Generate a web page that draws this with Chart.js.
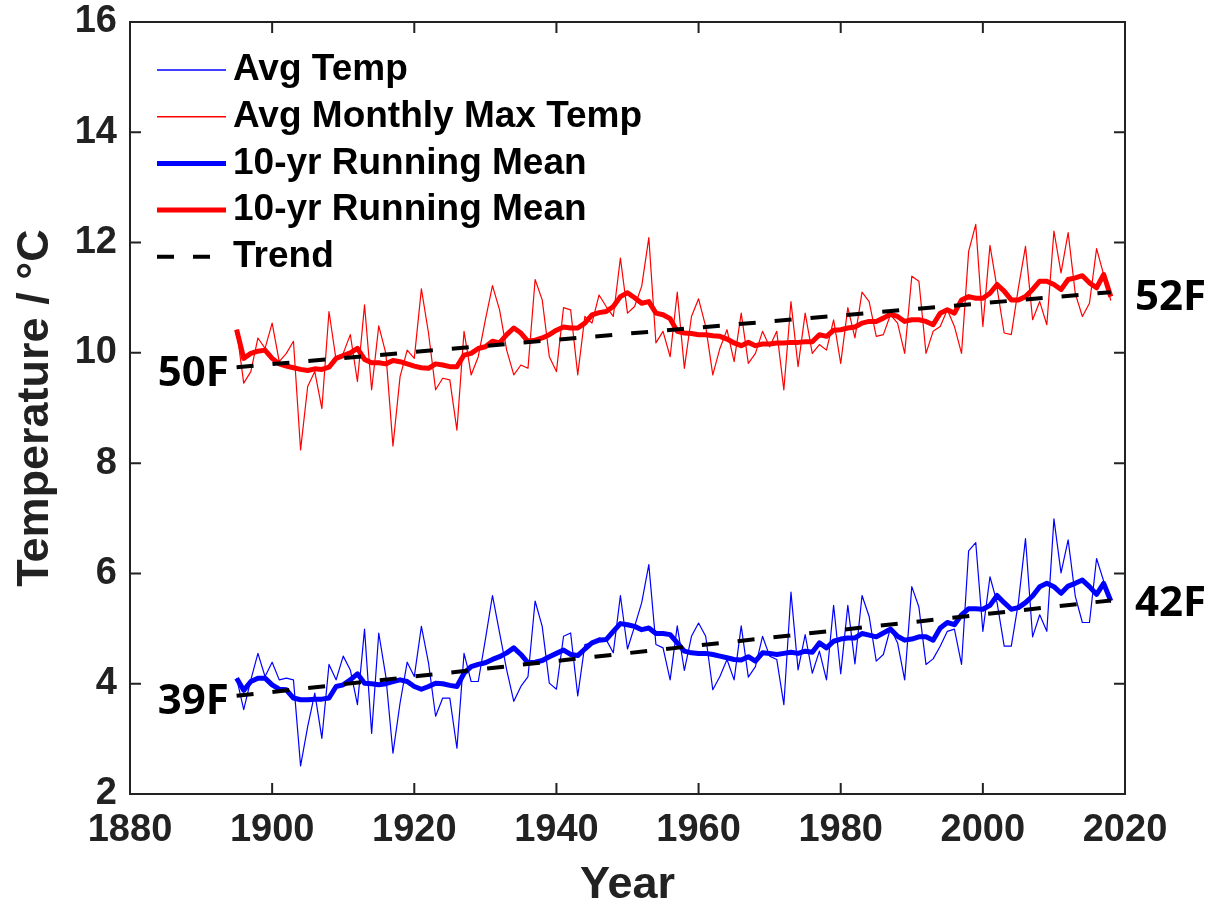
<!DOCTYPE html>
<html>
<head>
<meta charset="utf-8">
<script src="https://cdn.jsdelivr.net/npm/chart.js@4.4.0/dist/chart.umd.min.js"></script>
<style>
  html, body { margin: 0; padding: 0; background: #fff; }
  #wrap { width: 1221px; height: 910px; }
</style>
</head>
<body>
<div id="wrap"><canvas id="chart" width="1221" height="910"></canvas></div>
<script>
// yearly values, 1895 - 2018
const firstYear = 1895;

const avgTemp = [
  4.10, 3.53, 4.07, 4.55, 4.13, 4.39, 4.07, 4.10, 4.07, 2.51,
  3.22, 3.83, 3.01, 4.35, 4.07, 4.50, 4.25, 3.62, 4.99, 3.10,
  4.92, 4.13, 2.74, 3.65, 4.39, 4.13, 5.04, 4.38, 3.41, 3.74,
  3.74, 2.83, 4.55, 4.04, 4.04, 4.80, 5.60, 4.92, 4.25, 3.68,
  3.95, 4.13, 5.50, 5.04, 4.01, 3.90, 4.86, 4.92, 3.78, 4.71,
  4.74, 4.83, 4.80, 4.56, 5.60, 4.63, 5.04, 5.47, 6.16, 4.71,
  4.65, 4.07, 5.05, 4.24, 4.86, 5.10, 4.86, 3.89, 4.13, 4.44,
  4.07, 5.05, 4.12, 4.31, 4.86, 4.50, 4.44, 3.62, 5.66, 4.25,
  4.89, 4.19, 4.59, 4.07, 5.42, 4.18, 5.42, 4.36, 5.60, 5.22,
  4.41, 4.53, 5.01, 4.74, 4.07, 5.76, 5.39, 4.35, 4.45, 4.68,
  4.95, 4.99, 4.35, 6.41, 6.56, 4.95, 5.94, 5.47, 4.68, 4.68,
  5.47, 6.63, 4.85, 5.25, 4.95, 6.99, 6.01, 6.61, 5.59, 5.11,
  5.11, 6.27, 5.86, 5.47
];

const maxTemp = [
  10.42, 9.45, 9.66, 10.27, 10.08, 10.54, 9.84, 9.99, 10.21, 8.24,
  9.39, 9.66, 8.99, 10.75, 9.87, 9.99, 10.33, 9.48, 10.87, 9.33,
  10.49, 9.99, 8.31, 9.57, 10.05, 9.90, 11.16, 10.36, 9.33, 9.54,
  9.51, 8.60, 10.39, 9.60, 9.93, 10.60, 11.22, 10.78, 10.05, 9.60,
  9.78, 9.72, 11.33, 10.96, 9.93, 9.66, 10.82, 10.78, 9.60, 10.66,
  10.54, 11.05, 10.84, 10.66, 11.72, 10.72, 10.84, 11.21, 12.09, 10.18,
  10.39, 9.93, 11.10, 9.72, 10.66, 10.98, 10.48, 9.60, 10.08, 10.42,
  9.84, 10.72, 9.81, 9.99, 10.39, 10.11, 10.39, 9.33, 10.93, 9.75,
  10.72, 9.99, 10.15, 10.05, 10.60, 9.81, 10.82, 10.27, 11.10, 10.93,
  10.30, 10.33, 10.69, 10.54, 9.99, 11.39, 11.30, 9.99, 10.39, 10.48,
  10.78, 10.48, 9.99, 11.84, 12.33, 10.48, 11.95, 11.18, 10.36, 10.33,
  11.18, 11.93, 10.60, 10.93, 10.51, 12.21, 11.45, 12.18, 11.08, 10.66,
  10.90, 11.89, 11.42, 10.95
];

const avgMean = [
  4.10, 3.88, 4.04, 4.10, 4.10, 3.98, 3.90, 3.89, 3.74, 3.71,
  3.71, 3.72, 3.72, 3.74, 3.95, 3.98, 4.07, 4.18, 4.01, 4.00,
  3.98, 4.00, 4.04, 4.07, 4.04, 3.95, 3.90, 3.95, 4.01, 4.00,
  3.97, 3.95, 4.19, 4.31, 4.35, 4.38, 4.44, 4.49, 4.56, 4.65,
  4.53, 4.38, 4.39, 4.42, 4.49, 4.55, 4.61, 4.53, 4.51, 4.63,
  4.74, 4.79, 4.80, 4.95, 5.09, 5.07, 5.04, 4.98, 5.01, 4.91,
  4.91, 4.89, 4.74, 4.59, 4.56, 4.55, 4.55, 4.53, 4.50, 4.47,
  4.44, 4.43, 4.49, 4.41, 4.56, 4.55, 4.53, 4.55, 4.57, 4.55,
  4.59, 4.57, 4.74, 4.65, 4.77, 4.81, 4.83, 4.83, 4.91, 4.88,
  4.85, 4.92, 4.99, 4.86, 4.79, 4.81, 4.85, 4.85, 4.79, 5.01,
  5.11, 5.07, 5.25, 5.36, 5.36, 5.35, 5.42, 5.60, 5.47, 5.35,
  5.38, 5.47, 5.59, 5.76, 5.82, 5.76, 5.64, 5.77, 5.82, 5.88,
  5.76, 5.62, 5.82, 5.50
];

const maxMean = [
  10.42, 9.90, 9.99, 10.03, 10.05, 9.90, 9.80, 9.76, 9.73, 9.70,
  9.68, 9.71, 9.70, 9.74, 9.90, 9.95, 10.00, 10.08, 9.88, 9.82,
  9.82, 9.80, 9.86, 9.84, 9.80, 9.76, 9.73, 9.72, 9.80, 9.78,
  9.75, 9.75, 9.96, 9.99, 10.08, 10.11, 10.21, 10.18, 10.33, 10.45,
  10.36, 10.21, 10.23, 10.27, 10.33, 10.41, 10.47, 10.45, 10.45, 10.54,
  10.69, 10.73, 10.75, 10.84, 11.02, 11.09, 11.00, 10.90, 10.93, 10.72,
  10.69, 10.62, 10.39, 10.36, 10.35, 10.33, 10.33, 10.31, 10.30, 10.25,
  10.18, 10.13, 10.19, 10.13, 10.16, 10.16, 10.18, 10.18, 10.19, 10.19,
  10.20, 10.20, 10.33, 10.30, 10.41, 10.42, 10.45, 10.47, 10.54, 10.57,
  10.57, 10.63, 10.70, 10.66, 10.57, 10.60, 10.60, 10.57, 10.51, 10.72,
  10.78, 10.72, 10.96, 11.02, 10.99, 10.99, 11.08, 11.24, 11.12, 10.96,
  10.96, 11.02, 11.15, 11.30, 11.30, 11.24, 11.15, 11.33, 11.36, 11.40,
  11.27, 11.18, 11.42, 11.02
];

// straight trend lines (end points)
const trendYears = [1895, 2018];
const trendAvg = [3.78, 5.51];
const trendMax = [9.74, 11.10];

const xTicks = [1880, 2020, 20];   // min, max, step
const yTicks = [2, 16, 2];

// Fahrenheit notes: text, year, temperature
const noteText = ["50F", "39F", "52F", "42F"];
const noteYear = [1883.9, 1883.9, 2021.4, 2021.4];
const noteTemp = [9.61, 3.66, 11.0, 5.44];

function toPoints(vals) {
  return vals.map((v, i) => ({ x: firstYear + i, y: v }));
}
function trendPoints(vals) {
  return vals.map((v, i) => ({ x: trendYears[i], y: v }));
}

const axisColor = "#222";
const sans = "'Liberation Sans', Arial, Helvetica, sans-serif";

// MATLAB style box with inward ticks
const boxPlugin = {
  id: "box",
  afterDatasetsDraw(chart) {
    const { ctx, chartArea: a, scales } = chart;
    ctx.save();
    ctx.strokeStyle = axisColor;
    ctx.lineWidth = 2;
    ctx.strokeRect(a.left, a.top, a.right - a.left, a.bottom - a.top);
    ctx.beginPath();
    scales.x.ticks.forEach(t => {
      const px = scales.x.getPixelForValue(t.value);
      ctx.moveTo(px, a.bottom); ctx.lineTo(px, a.bottom - 11);
      ctx.moveTo(px, a.top); ctx.lineTo(px, a.top + 11);
    });
    scales.y.ticks.forEach(t => {
      const py = scales.y.getPixelForValue(t.value);
      ctx.moveTo(a.left, py); ctx.lineTo(a.left + 11, py);
      ctx.moveTo(a.right, py); ctx.lineTo(a.right - 11, py);
    });
    ctx.stroke();
    ctx.restore();
  }
};

// legend drawn inside the axes, top left
const legendPlugin = {
  id: "insideLegend",
  afterDraw(chart) {
    const { ctx, chartArea: a } = chart;
    ctx.save();
    ctx.font = "bold 37px " + sans;
    ctx.textBaseline = "middle";
    ctx.fillStyle = "#000";
    let row = 0;
    chart.data.datasets.forEach(ds => {
      if (!ds.label) return;
      const y = a.top + 48 + row * 46.7;
      ctx.beginPath();
      ctx.setLineDash(ds.borderDash || []);
      ctx.lineWidth = ds.legendWidth || ds.borderWidth;
      ctx.strokeStyle = ds.borderColor;
      ctx.moveTo(a.left + 27, y);
      ctx.lineTo(a.left + 96, y);
      ctx.stroke();
      ctx.setLineDash([]);
      ctx.fillText(ds.label, a.left + 103, y);
      row++;
    });
    ctx.restore();
  }
};

// Fahrenheit notes
const notePlugin = {
  id: "notes",
  afterDraw(chart) {
    const { ctx, scales } = chart;
    ctx.save();
    ctx.font = "bold 42px 'Open Sans', 'Noto Sans', sans-serif";
    ctx.fillStyle = "#000";
    ctx.textBaseline = "middle";
    ctx.textAlign = "left";
    noteText.forEach((t, i) => {
      ctx.fillText(t, scales.x.getPixelForValue(noteYear[i]), scales.y.getPixelForValue(noteTemp[i]));
    });
    ctx.restore();
  }
};

var ctx = document.getElementById("chart").getContext("2d");
var myChart = new Chart(ctx, {
  type: "line",
  data: {
    datasets: [
      { label: "Avg Temp", data: toPoints(avgTemp), borderColor: "#0000ff", borderWidth: 1.2, legendWidth: 1.5, order: 5 },
      { label: "Avg Monthly Max Temp", data: toPoints(maxTemp), borderColor: "#ff0000", borderWidth: 1.2, legendWidth: 1.5, order: 4 },
      { label: "10-yr Running Mean", data: toPoints(avgMean), borderColor: "#0000ff", borderWidth: 5, order: 3 },
      { label: "10-yr Running Mean", data: toPoints(maxMean), borderColor: "#ff0000", borderWidth: 5, order: 2 },
      { label: "Trend", data: trendPoints(trendAvg), borderColor: "#000", borderWidth: 4, borderDash: [17, 19], order: 1 },
      { data: trendPoints(trendMax), borderColor: "#000", borderWidth: 4, borderDash: [17, 19], order: 0 }
    ]
  },
  options: {
    responsive: false,
    animation: false,
    devicePixelRatio: 1,
    layout: { padding: { top: 22, right: 96, left: 0, bottom: 0 } },
    elements: {
      point: { radius: 0 },
      line: { tension: 0, fill: false, borderJoinStyle: "round" }
    },
    plugins: { legend: { display: false }, tooltip: { enabled: false } },
    scales: {
      x: {
        type: "linear",
        min: xTicks[0], max: xTicks[1],
        grid: { display: false, drawTicks: false },
        border: { display: false },
        ticks: { stepSize: xTicks[2], padding: 14, color: axisColor, font: { family: sans, size: 38, weight: "bold" }, callback: v => String(v) },
        title: { display: true, text: "Year", color: axisColor, font: { family: sans, size: 45, weight: "bold" }, padding: { top: 0, bottom: -3 } },
        afterFit(scale) { scale.height = 116; }
      },
      y: {
        type: "linear",
        min: yTicks[0], max: yTicks[1],
        grid: { display: false, drawTicks: false },
        border: { display: false },
        ticks: { stepSize: yTicks[2], padding: 13, color: axisColor, font: { family: sans, size: 38, weight: "bold" } },
        title: { display: true, text: "Temperature / °C", color: axisColor, font: { family: sans, size: 45, weight: "bold" }, padding: { top: 9, bottom: 0 } },
        afterFit(scale) {
          scale.width = 130;
          scale.paddingTop = 0;
          scale.paddingBottom = 0;
        }
      }
    }
  },
  plugins: [boxPlugin, legendPlugin, notePlugin]
});
</script>
</body>
</html>
